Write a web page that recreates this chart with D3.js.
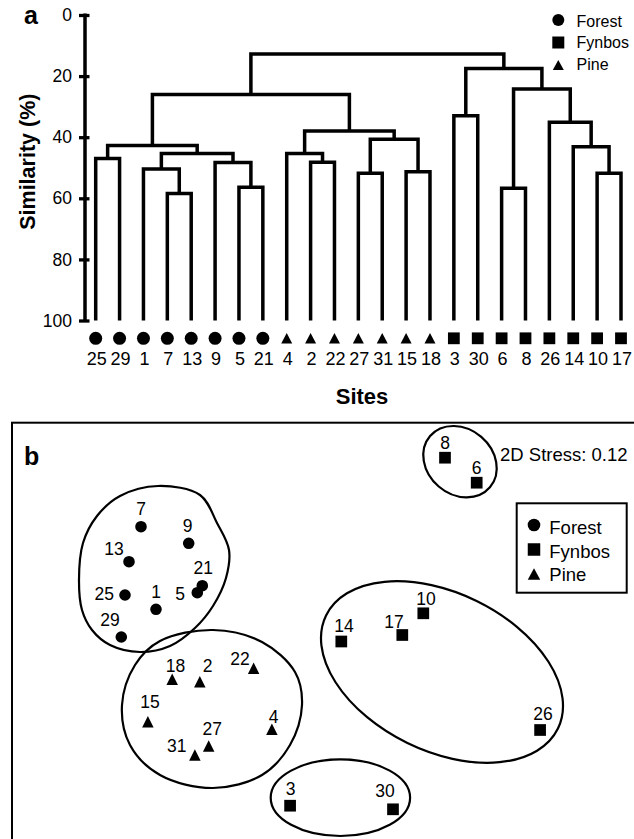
<!DOCTYPE html>
<html>
<head>
<meta charset="utf-8">
<script src="https://cdn.jsdelivr.net/npm/d3@7"></script>
<style>
  html, body { margin: 0; padding: 0; background: #fff; }
  svg { display: block; font-family: "Liberation Sans", Arial, Helvetica, sans-serif; }
</style>
</head>
<body>
<svg id="chart" width="634" height="839"></svg>
<script>
// ---------------- DATA ----------------
// Panel a: dendrogram leaves (left to right) and their habitat
const sites = ["25","29","1","7","13","9","5","21","4","2","22","27","31","15","18","3","30","6","8","26","14","10","17"];
const siteHabitat = ["Forest","Forest","Forest","Forest","Forest","Forest","Forest","Forest",
                     "Pine","Pine","Pine","Pine","Pine","Pine","Pine",
                     "Fynbos","Fynbos","Fynbos","Fynbos","Fynbos","Fynbos","Fynbos","Fynbos"];
// Linkage: merge i joins mergeLeft[i] and mergeRight[i] at mergeSim[i] (% similarity); merged node is "m"+i
const mergeLeft  = ["7","1","5","9","m1","25","m5","2","4","27","15","m9","m8","m6","3","6","10","14","26","m15","m14","m13"];
const mergeRight = ["13","m0","21","m2","m3","29","m4","22","m7","31","18","m10","m11","m12","30","8","17","m16","m17","m18","m19","m20"];
const mergeSim   = [58.4, 50.4, 56.4, 48.3, 45.3, 47.0, 42.7, 48.2, 45.3, 51.8, 51.3, 40.7, 38.0, 26.0, 33.0, 56.7, 51.8, 43.1, 35.1, 24.2, 17.5, 12.8];
const simTicks = [0, 20, 40, 60, 80, 100];

// Legend
const habitats = ["Forest", "Fynbos", "Pine"];

// Panel b: NMDS ordination (arbitrary axis units)
const nmdsSite = ["7","9","13","21","5","25","1","29",
                  "18","2","22","15","4","27","31",
                  "8","6","10","17","14","26","3","30"];
const nmdsHabitat = ["Forest","Forest","Forest","Forest","Forest","Forest","Forest","Forest",
                     "Pine","Pine","Pine","Pine","Pine","Pine","Pine",
                     "Fynbos","Fynbos","Fynbos","Fynbos","Fynbos","Fynbos","Fynbos","Fynbos"];
const nmdsX = [-1.99,-1.513,-2.11,-1.377,-1.427,-2.15,-1.84,-2.187,
               -1.678,-1.402,-0.864,-1.921,-0.681,-1.313,-1.451,
               1.05,1.367,0.833,0.623,0.013,2.001,-0.499,0.53];
const nmdsY = [1.733,1.567,1.383,1.143,1.073,1.05,0.907,0.63,
               0.207,0.183,0.317,-0.217,-0.293,-0.46,-0.55,
               2.423,2.173,0.867,0.65,0.585,-0.3,-1.057,-1.093];
const stressText = "2D Stress: 0.12";

// Group outlines in NMDS units
const forestHullX = [-1.82,-1.40,-1.23,-1.11,-1.14,-1.27,-1.45,-1.70,-2.00,-2.30,-2.48,-2.58,-2.61,-2.57,-2.43,-2.20];
const forestHullY = [2.14,2.05,1.77,1.50,1.22,0.94,0.72,0.54,0.48,0.55,0.70,0.90,1.20,1.57,1.84,2.04];
const pineHullX = [-1.27,-0.78,-0.45,-0.38,-0.50,-0.78,-1.27,-1.80,-2.10,-2.18,-2.05,-1.80];
const pineHullY = [0.70,0.58,0.28,-0.05,-0.45,-0.75,-0.88,-0.75,-0.45,-0.05,0.35,0.59];
// Fynbos ellipses: centre, semi-axes (NMDS units), tilt (degrees)
const ellCX = [1.02, 1.20, 0.004];
const ellCY = [0.28, 2.383, -0.977];
const ellRX = [1.29, 0.394, 0.697];
const ellRY = [0.79, 0.327, 0.383];
const ellTilt = [26, 40.6, 0];

// ---------------- LAYOUT / STYLE ----------------
const FONT = '"Liberation Sans", Arial, Helvetica, sans-serif';
const svg = d3.select("#chart");
svg.append("rect").attr("width", 634).attr("height", 839).attr("fill", "#fff");

function markerPath(type, s) {
  const p = d3.path();
  if (type === "Forest") {
    p.arc(0, 0, s.r, 0, 2 * Math.PI);
  } else if (type === "Fynbos") {
    p.rect(-s.sq / 2, -s.sq / 2, s.sq, s.sq);
  } else {
    p.moveTo(0, -s.th / 2); p.lineTo(s.tw / 2, s.th / 2); p.lineTo(-s.tw / 2, s.th / 2); p.closePath();
  }
  return p.toString();
}

// ---------------- PANEL A ----------------
const xA = d3.scalePoint().domain(sites).range([95.7, 621]);
const yA = d3.scaleLinear().domain([0, 100]).range([15, 320.5]);

const gA = svg.append("g");

// axis
const axis = d3.axisLeft(yA).tickValues(simTicks).tickSize(0).tickPadding(13);
const gAx = gA.append("g").attr("transform", "translate(85,0)").call(axis);
gAx.select(".domain").remove();
gAx.selectAll(".tick line").remove();
gAx.selectAll(".tick").append("line")
  .attr("x1", -6).attr("x2", 4.5).attr("stroke", "#000").attr("stroke-width", 3.3);
gAx.selectAll(".tick text").attr("font-size", 17.5).attr("font-family", FONT).attr("fill", "#000");
gAx.append("line").attr("y1", yA(0) - 1.6).attr("y2", yA(100) + 1.6)
  .attr("stroke", "#000").attr("stroke-width", 3.5);

// dendrogram
const nodes = {};
sites.forEach(s => nodes[s] = { x: xA(s), sim: 100 });
const links = [];
mergeLeft.forEach((a, i) => {
  const L = nodes[a], R = nodes[mergeRight[i]], h = mergeSim[i];
  const p = d3.path();
  p.moveTo(L.x, yA(L.sim)); p.lineTo(L.x, yA(h)); p.lineTo(R.x, yA(h)); p.lineTo(R.x, yA(R.sim));
  links.push(p.toString());
  nodes["m" + i] = { x: (L.x + R.x) / 2, sim: h };
});
gA.append("g").selectAll("path").data(links).join("path")
  .attr("d", d => d).attr("fill", "none").attr("stroke", "#000")
  .attr("stroke-width", 3.5).attr("stroke-linejoin", "miter");

// leaf symbols & labels
const symA = { r: 6.5, sq: 11.8, tw: 11, th: 10.5 };
gA.append("g").selectAll("path").data(sites).join("path")
  .attr("transform", (d) => `translate(${xA(d)},338.3)`)
  .attr("d", (d, i) => markerPath(siteHabitat[i], symA)).attr("fill", "#000");
gA.append("g").selectAll("text").data(sites).join("text")
  .attr("x", d => xA(d) + 1).attr("y", 364.8).attr("text-anchor", "middle")
  .attr("font-size", 18).attr("fill", "#000").text(d => d);

// axis titles
gA.append("text").attr("transform", "translate(34.5,161.7) rotate(-90)")
  .attr("text-anchor", "middle").attr("font-size", 21.5).attr("font-weight", "bold").text("Similarity (%)");
gA.append("text").attr("x", 362).attr("y", 404).attr("text-anchor", "middle")
  .attr("font-size", 22).attr("font-weight", "bold").text("Sites");
gA.append("text").attr("x", 24).attr("y", 24).attr("font-size", 25).attr("font-weight", "bold").text("a");

// legend a
const legA = gA.append("g");
const symLA = { r: 6, sq: 12, tw: 11, th: 10 };
habitats.forEach((h, i) => {
  legA.append("path").attr("transform", `translate(558.3,${20 + i * 22.5})`)
    .attr("d", markerPath(h, symLA)).attr("fill", "#000");
  legA.append("text").attr("x", 576.5).attr("y", 26.5 + i * 21.7).attr("font-size", 16).text(h);
});

// ---------------- PANEL B ----------------
const xB = d3.scaleLinear().domain([-3, 3]).range([40, 640]);
const yB = d3.scaleLinear().domain([-1.5, 1.5]).range([850, 550]);
const gB = svg.append("g");

gB.append("rect").attr("x", 12).attr("y", 422.7).attr("width", 800).attr("height", 600)
  .attr("fill", "none").attr("stroke", "#000").attr("stroke-width", 2);
gB.append("text").attr("x", 24).attr("y", 465).attr("font-size", 25).attr("font-weight", "bold").text("b");

// outlines
const closed = d3.line().x(d => xB(d[0])).y(d => yB(d[1])).curve(d3.curveCatmullRomClosed.alpha(0.5));
gB.append("path").attr("d", closed(forestHullX.map((x, i) => [x, forestHullY[i]])))
  .attr("fill", "none").attr("stroke", "#000").attr("stroke-width", 2.2);
gB.append("path").attr("d", closed(pineHullX.map((x, i) => [x, pineHullY[i]])))
  .attr("fill", "none").attr("stroke", "#000").attr("stroke-width", 2.2);
ellCX.forEach((cx, i) => {
  const px = xB(cx), py = yB(ellCY[i]);
  gB.append("ellipse").attr("cx", px).attr("cy", py)
    .attr("rx", xB(ellRX[i]) - xB(0)).attr("ry", yB(0) - yB(ellRY[i]))
    .attr("transform", `rotate(${ellTilt[i]},${px},${py})`)
    .attr("fill", "none").attr("stroke", "#000").attr("stroke-width", 2.2);
});

// points
const symB = { r: 5.8, sq: 11.7, tw: 11.5, th: 11.5 };
gB.append("g").selectAll("path").data(nmdsSite).join("path")
  .attr("transform", (d, i) => `translate(${xB(nmdsX[i])},${yB(nmdsY[i])})`)
  .attr("d", (d, i) => markerPath(nmdsHabitat[i], symB)).attr("fill", "#000");
// label placement offsets (px, label centre relative to point)
const labelOff = {
  "7":[0,-18.4],"9":[-1,-17.6],"13":[-15,-12.7],"21":[1,-18],"5":[-17.3,0.6],"25":[-20.7,-1.7],"1":[0,-17.6],"29":[-11.3,-17],
  "18":[3.2,-13.3],"2":[7.7,-15.7],"22":[-13.7,-10],"15":[2.1,-20],"4":[1.6,-12.6],"27":[3.6,-17.7],"31":[-18.2,-9],
  "8":[0,-14.7],"6":[0,-14.7],"10":[2.7,-14.3],"17":[-8.3,-13.3],"14":[2.7,-15.5],"26":[3,-16],"3":[0.4,-17.4],"30":[-8,-18.6]
};
gB.append("g").selectAll("text").data(nmdsSite).join("text")
  .attr("x", (d, i) => xB(nmdsX[i]) + labelOff[d][0])
  .attr("y", (d, i) => yB(nmdsY[i]) + labelOff[d][1] + 6.3)
  .attr("text-anchor", "middle").attr("font-size", 17.5).text(d => d);

gB.append("text").attr("x", 500).attr("y", 461).attr("font-size", 18.5).text(stressText);

// legend b
const legB = gB.append("g");
legB.append("rect").attr("x", 516.7).attr("y", 503.3).attr("width", 110).attr("height", 89.4)
  .attr("fill", "#fff").attr("stroke", "#000").attr("stroke-width", 2);
const symLB = { r: 6.3, sq: 12.5, tw: 12.5, th: 11.5 };
habitats.forEach((h, i) => {
  legB.append("path").attr("transform", `translate(534,${525 + i * 24.5})`)
    .attr("d", markerPath(h, symLB)).attr("fill", "#000");
  legB.append("text").attr("x", 549.3).attr("y", 534 + i * 23.5).attr("font-size", 18.5).text(h);
});
svg.selectAll("text").attr("font-family", FONT).attr("fill", "#000");
</script>
</body>
</html>
